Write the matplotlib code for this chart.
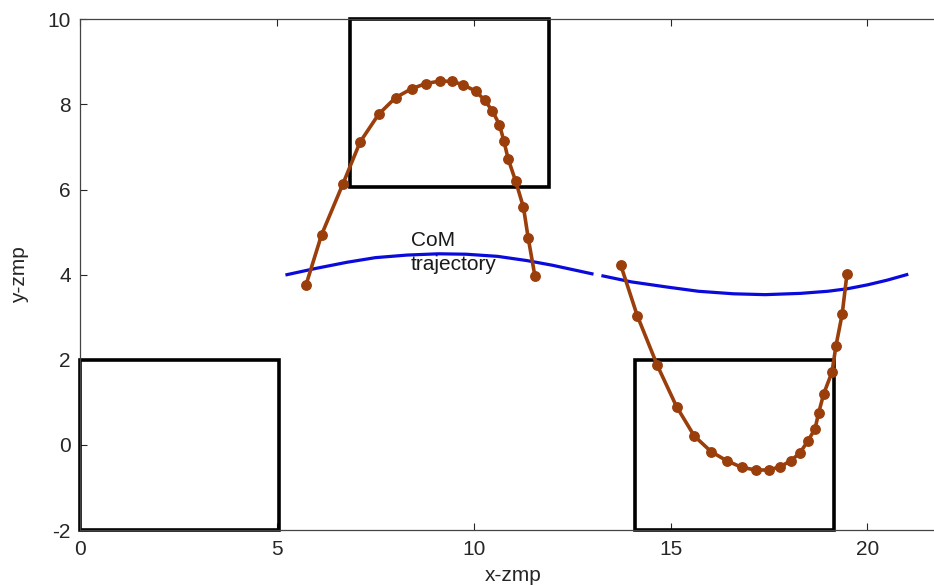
import numpy as np
import matplotlib
matplotlib.use("Agg")
import matplotlib.pyplot as plt
from matplotlib.patches import Rectangle

plt.rcParams['font.family'] = ['Liberation Sans', 'DejaVu Sans']
plt.rcParams['axes.unicode_minus'] = False

# footprints (lower-left x, lower-left y, width, height)
foot_x = [0.0, 6.85, 14.1]
foot_y = [-2.0, 6.05, -2.0]
foot_w = [5.05, 5.05, 5.05]
foot_h = [4.0, 3.95, 4.0]

# CoM trajectory, two pieces with a small gap
com1_x = [5.25, 6.0, 6.77, 7.5, 8.3, 9.1, 9.8, 10.6, 11.35, 12.0, 12.5, 13.0]
com1_y = [4.00, 4.15, 4.29, 4.40, 4.46, 4.49, 4.48, 4.43, 4.33, 4.22, 4.12, 4.02]
com2_x = [13.28, 14.0, 14.9, 15.7, 16.6, 17.4, 18.3, 19.0, 19.5, 20.0, 20.5, 21.0]
com2_y = [3.97, 3.83, 3.71, 3.61, 3.55, 3.53, 3.56, 3.61, 3.67, 3.76, 3.87, 4.00]

# ZMP points, first step
zmp1_x = [5.73, 6.13, 6.67, 7.11, 7.58, 8.01, 8.42, 8.78, 9.14, 9.45, 9.73,
          10.05, 10.27, 10.47, 10.65, 10.76, 10.87, 11.06, 11.26, 11.38, 11.55]
zmp1_y = [3.75, 4.94, 6.13, 7.12, 7.77, 8.16, 8.37, 8.49, 8.55, 8.54, 8.46,
          8.31, 8.10, 7.85, 7.52, 7.15, 6.72, 6.20, 5.58, 4.86, 3.97]

# ZMP points, second step
zmp2_x = [13.73, 14.15, 14.66, 15.15, 15.60, 16.03, 16.42, 16.81, 17.17, 17.50, 17.79,
          18.06, 18.29, 18.48, 18.67, 18.76, 18.89, 19.10, 19.20, 19.36, 19.48]
zmp2_y = [4.23, 3.04, 1.87, 0.90, 0.21, -0.16, -0.37, -0.53, -0.59, -0.59, -0.51,
          -0.37, -0.18, 0.08, 0.38, 0.75, 1.20, 1.71, 2.32, 3.08, 4.01]

brown = '#9a3e0b'
blue = '#0a0adc'
axcol = '#262626'

fig = plt.figure(figsize=(9.34, 5.85), dpi=100)
ax = fig.add_axes([80.4 / 934, 55 / 585, 22 * 39.35 / 934, 510.7 / 585])

for x0, y0, w, h in zip(foot_x, foot_y, foot_w, foot_h):
    ax.add_patch(Rectangle((x0, y0), w, h, fill=False, edgecolor='black',
                           linewidth=2.6, zorder=2, clip_on=False))

ax.plot(com1_x, com1_y, color=blue, linewidth=2.3, zorder=3)
ax.plot(com2_x, com2_y, color=blue, linewidth=2.3, zorder=3)

ax.plot(zmp1_x, zmp1_y, '-o', color=brown, linewidth=2.6, markersize=6.8, zorder=4)
ax.plot(zmp2_x, zmp2_y, '-o', color=brown, linewidth=2.6, markersize=6.8, zorder=4)

ax.text(8.4, 4.52, 'CoM\ntrajectory', fontsize=15, color='#1a1a1a',
        ha='left', va='center', linespacing=1.3, zorder=5)

ax.set_xlim(0, 22)
ax.set_ylim(-2, 10)
ax.set_xticks([0, 5, 10, 15, 20])
ax.set_yticks([-2, 0, 2, 4, 6, 8, 10])
ax.tick_params(direction='in', length=5, width=0.8, colors=axcol,
               labelsize=15, top=True, right=True, pad=7)
for s in ax.spines.values():
    s.set_color('#444444')
    s.set_linewidth(0.9)

ax.set_xlabel('x-zmp', fontsize=15, color=axcol, labelpad=5)
ax.set_ylabel('y-zmp', fontsize=15, color=axcol, labelpad=13)

fig.savefig('out.png', dpi=100)
